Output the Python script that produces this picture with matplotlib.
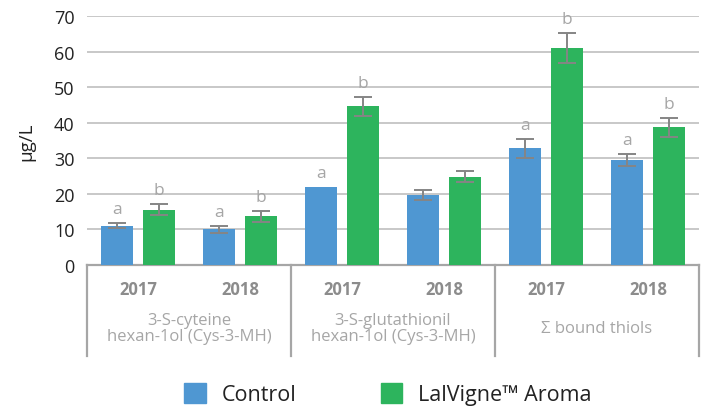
"""
Bound thiol concentrations: Control vs LalVigne Aroma, 2017 and 2018.
"""

import numpy as np
import matplotlib
matplotlib.use("Agg")
import matplotlib.pyplot as plt
from matplotlib.patches import Patch
import matplotlib.transforms as mtransforms

plt.rcParams['font.family'] = ['Open Sans', 'DejaVu Sans']

# data
YEARS = ['2017', '2018', '2017', '2018', '2017', '2018']
CATEGORIES = ['3-S-cyteine\nhexan-1ol (Cys-3-MH)',
              '3-S-glutathionil\nhexan-1ol (Cys-3-MH)',
              '\u03a3 bound thiols']
control = [11.0, 10.1, 22.0, 19.7, 32.8, 29.5]
control_err = [0.7, 1.0, 0.0, 1.5, 2.6, 1.8]
aroma = [15.6, 13.7, 44.6, 24.8, 61.0, 38.7]
aroma_err = [1.5, 1.6, 2.6, 1.5, 4.2, 2.7]
control_letters = ['a', 'a', 'a', '', 'a', 'a']
aroma_letters = ['b', 'b', 'b', '', 'b', 'b']
SERIES = ['Control', 'LalVigne\u2122 Aroma']

BLUE = '#4F97D2'
GREEN = '#2DB45D'
GRID = '#BFBFBF'
ERR = '#858585'
LETTER = '#A6A6A6'


def main():
    fig = plt.figure(figsize=(7.07, 4.10), dpi=100)
    ax = fig.add_axes([87 / 707, 1 - 266 / 410, 612 / 707, 249 / 410])

    x = np.arange(len(YEARS))
    width = 0.31
    off = 0.205

    ax.bar(x - off, control, width, color=BLUE, zorder=3)
    ax.bar(x + off, aroma, width, color=GREEN, zorder=3)

    for xs, vals, errs in [(x - off, control, control_err), (x + off, aroma, aroma_err)]:
        for xi, v, e in zip(xs, vals, errs):
            if e > 0:
                ax.errorbar(xi, v, yerr=e, color=ERR, lw=1.4, capsize=6.5,
                            capthick=1.4, zorder=4)

    for xs, vals, errs, letters in [(x - off, control, control_err, control_letters),
                                    (x + off, aroma, aroma_err, aroma_letters)]:
        for xi, v, e, t in zip(xs, vals, errs, letters):
            if t:
                ax.text(xi, v + e + 2.8, t, ha='center', va='baseline',
                        fontsize=12.5, color=LETTER)

    ax.set_xlim(-0.5, 5.5)
    ax.set_ylim(0, 70)
    ax.set_yticks(np.arange(0, 71, 10))
    ax.yaxis.grid(True, color=GRID, lw=1.2, zorder=0)
    ax.set_axisbelow(True)
    ax.tick_params(axis='y', length=0, pad=9, labelsize=13, labelcolor='#222222')
    ax.set_xticks([])
    for side in ['top', 'right', 'left']:
        ax.spines[side].set_visible(False)
    ax.spines['bottom'].set_color('#A6A6A6')
    ax.spines['bottom'].set_linewidth(1.6)
    ax.set_ylabel('\u00b5g/L', fontsize=13.5, color='#222222', labelpad=13)

    # table-like category axis below the plot
    trans = mtransforms.blended_transform_factory(ax.transData, ax.transAxes)
    for xb in [-0.5, 1.5, 3.5, 5.5]:
        ax.plot([xb, xb], [0, -0.365], transform=trans, color='#A6A6A6',
                lw=1.6, clip_on=False)
    for xi, yr in zip(x, YEARS):
        ax.text(xi, -0.096, yr, transform=trans, ha='center', va='center',
                fontsize=12, fontweight='bold', color='#8C8C8C')
    for i, cat in enumerate(CATEGORIES):
        ax.text(2 * i + 0.5, -0.255, cat, transform=trans, ha='center',
                va='center', fontsize=12, color='#A6A6A6', linespacing=1.0)

    handles = [Patch(color=BLUE), Patch(color=GREEN)]
    fig.legend(handles, SERIES, loc='center', bbox_to_anchor=(0.549, 0.036),
               ncol=2, frameon=False, fontsize=15.5, handlelength=1.0,
               handleheight=1.0, handletextpad=0.75, columnspacing=3.9,
               labelcolor='#222222')

    fig.savefig('out.png', dpi=100)
    plt.close(fig)


if __name__ == "__main__":
    main()
